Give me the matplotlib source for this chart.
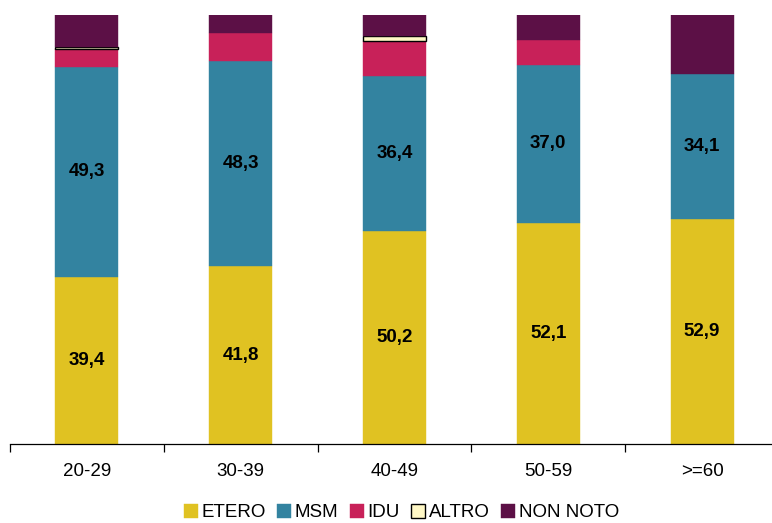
import matplotlib.pyplot as plt
import numpy as np

plt.rcParams['font.family'] = ['Liberation Sans', 'DejaVu Sans']

# data (percent)
categories = ['20-29', '30-39', '40-49', '50-59', '>=60']
etero = [39.4, 41.8, 50.2, 52.1, 52.9]
msm = [49.3, 48.3, 36.4, 37.0, 34.1]
idu = [4.2, 6.6, 8.2, 6.0, 0.0]
altro = [0.5, 0.0, 1.2, 0.0, 0.0]
non_noto = [7.5, 4.2, 4.9, 5.8, 13.9]

series = [('ETERO', etero, '#E0C222'), ('MSM', msm, '#3383A0'),
          ('IDU', idu, '#C82159'), ('ALTRO', altro, '#FFF8C6'),
          ('NON NOTO', non_noto, '#5C1046')]

fig = plt.figure(figsize=(7.72, 5.23), dpi=100)
ax = fig.add_axes([0.013, 0.151, 0.996, 0.82])

x = np.arange(len(categories))
bottom = np.zeros(len(categories))
for name, vals, col in series:
    vals = np.array(vals)
    keep = vals > 0
    if name == 'ALTRO':
        ax.bar(x[keep], vals[keep], 0.41, bottom=bottom[keep], color=col,
               edgecolor='black', linewidth=1.0, label=name)
    else:
        ax.bar(x[keep], vals[keep], 0.41, bottom=bottom[keep], color=col,
               edgecolor=col, linewidth=0.3, label=name)
    if name in ('ETERO', 'MSM'):
        for xi, b, v in zip(x, bottom, vals):
            ax.text(xi, b + v / 2, f'{v:.1f}'.replace('.', ','), ha='center',
                    va='center', fontsize=13.5, fontweight='bold')
    bottom = bottom + vals

ax.set_xlim(-0.5, 4.5)
ax.set_ylim(0, bottom.max())
for s in ['top', 'right', 'left']:
    ax.spines[s].set_visible(False)
ax.spines['bottom'].set_linewidth(0.9)
ax.set_yticks([])
ax.set_xticks(np.arange(-0.5, 5.0, 1.0))
ax.set_xticklabels([])
ax.tick_params(axis='x', which='major', length=6, width=0.9, direction='out')
ax.set_xticks(x, minor=True)
ax.set_xticklabels(categories, minor=True, fontsize=13.5)
ax.tick_params(axis='x', which='minor', length=0, pad=14)

fig.legend(loc='center', bbox_to_anchor=(0.52, 0.02), ncol=5, frameon=False,
           fontsize=13.5, handlelength=0.75, handleheight=0.75,
           handletextpad=0.2, columnspacing=0.6, borderaxespad=0)

fig.savefig('out.png', dpi=100)
